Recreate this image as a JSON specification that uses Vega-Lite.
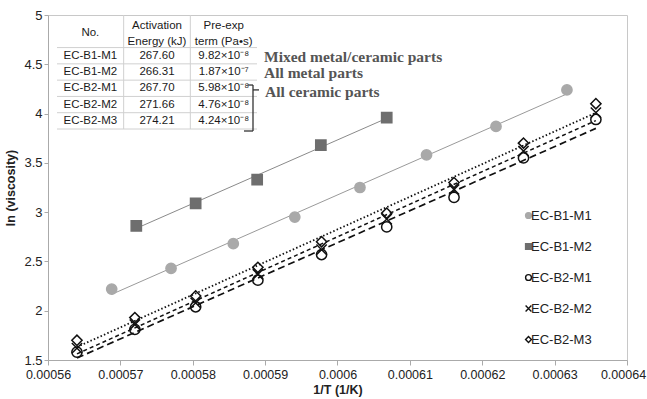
{
  "$schema": "https://vega.github.io/schema/vega-lite/v6.json",
  "width": 579,
  "height": 345,
  "autosize": "none",
  "padding": {"left": 48, "top": 15, "right": 20, "bottom": 39},
  "background": "white",
  "config": {
    "view": {"stroke": "#c8c8c8", "strokeWidth": 1},
    "font": "Liberation Sans",
    "axis": {"grid": false, "labelFont": "Liberation Sans", "titleFont": "Liberation Sans"}
  },
  "datasets": {
    "pts": [
      {"series": "EC-B1-M1", "invT": 0.0005688, "lnv": 2.22},
      {"series": "EC-B1-M1", "invT": 0.000577, "lnv": 2.43},
      {"series": "EC-B1-M1", "invT": 0.0005856, "lnv": 2.68},
      {"series": "EC-B1-M1", "invT": 0.0005941, "lnv": 2.95},
      {"series": "EC-B1-M1", "invT": 0.0006031, "lnv": 3.25},
      {"series": "EC-B1-M1", "invT": 0.0006123, "lnv": 3.58},
      {"series": "EC-B1-M1", "invT": 0.0006219, "lnv": 3.87},
      {"series": "EC-B1-M1", "invT": 0.0006317, "lnv": 4.24},
      {"series": "EC-B1-M2", "invT": 0.0005722, "lnv": 2.86},
      {"series": "EC-B1-M2", "invT": 0.0005804, "lnv": 3.09},
      {"series": "EC-B1-M2", "invT": 0.0005889, "lnv": 3.33},
      {"series": "EC-B1-M2", "invT": 0.0005977, "lnv": 3.68},
      {"series": "EC-B1-M2", "invT": 0.0006068, "lnv": 3.96},
      {"series": "EC-B2-M1", "invT": 0.000564, "lnv": 1.58},
      {"series": "EC-B2-M1", "invT": 0.000572, "lnv": 1.81},
      {"series": "EC-B2-M1", "invT": 0.0005804, "lnv": 2.04},
      {"series": "EC-B2-M1", "invT": 0.000589, "lnv": 2.31},
      {"series": "EC-B2-M1", "invT": 0.0005978, "lnv": 2.57},
      {"series": "EC-B2-M1", "invT": 0.0006068, "lnv": 2.85},
      {"series": "EC-B2-M1", "invT": 0.0006161, "lnv": 3.15},
      {"series": "EC-B2-M1", "invT": 0.0006257, "lnv": 3.55},
      {"series": "EC-B2-M1", "invT": 0.0006357, "lnv": 3.94},
      {"series": "EC-B2-M2", "invT": 0.000564, "lnv": 1.62},
      {"series": "EC-B2-M2", "invT": 0.000572, "lnv": 1.86},
      {"series": "EC-B2-M2", "invT": 0.0005804, "lnv": 2.08},
      {"series": "EC-B2-M2", "invT": 0.000589, "lnv": 2.37},
      {"series": "EC-B2-M2", "invT": 0.0005978, "lnv": 2.62},
      {"series": "EC-B2-M2", "invT": 0.0006068, "lnv": 2.93},
      {"series": "EC-B2-M2", "invT": 0.0006161, "lnv": 3.23},
      {"series": "EC-B2-M2", "invT": 0.0006257, "lnv": 3.62},
      {"series": "EC-B2-M2", "invT": 0.0006357, "lnv": 4.01},
      {"series": "EC-B2-M3", "invT": 0.000564, "lnv": 1.70},
      {"series": "EC-B2-M3", "invT": 0.000572, "lnv": 1.93},
      {"series": "EC-B2-M3", "invT": 0.0005804, "lnv": 2.15},
      {"series": "EC-B2-M3", "invT": 0.000589, "lnv": 2.44},
      {"series": "EC-B2-M3", "invT": 0.0005978, "lnv": 2.70},
      {"series": "EC-B2-M3", "invT": 0.0006068, "lnv": 2.99},
      {"series": "EC-B2-M3", "invT": 0.0006161, "lnv": 3.30},
      {"series": "EC-B2-M3", "invT": 0.0006257, "lnv": 3.70},
      {"series": "EC-B2-M3", "invT": 0.0006357, "lnv": 4.10}
    ],
    "cells": [
      {"col": "No.", "row": "EC-B1-M1", "txt": "EC-B1-M1"},
      {"col": "Activation", "row": "EC-B1-M1", "txt": "267.60"},
      {"col": "Pre-exp", "row": "EC-B1-M1", "txt": "9.82×10⁻⁸"},
      {"col": "No.", "row": "EC-B1-M2", "txt": "EC-B1-M2"},
      {"col": "Activation", "row": "EC-B1-M2", "txt": "266.31"},
      {"col": "Pre-exp", "row": "EC-B1-M2", "txt": "1.87×10⁻⁷"},
      {"col": "No.", "row": "EC-B2-M1", "txt": "EC-B2-M1"},
      {"col": "Activation", "row": "EC-B2-M1", "txt": "267.70"},
      {"col": "Pre-exp", "row": "EC-B2-M1", "txt": "5.98×10⁻⁸"},
      {"col": "No.", "row": "EC-B2-M2", "txt": "EC-B2-M2"},
      {"col": "Activation", "row": "EC-B2-M2", "txt": "271.66"},
      {"col": "Pre-exp", "row": "EC-B2-M2", "txt": "4.76×10⁻⁸"},
      {"col": "No.", "row": "EC-B2-M3", "txt": "EC-B2-M3"},
      {"col": "Activation", "row": "EC-B2-M3", "txt": "274.21"},
      {"col": "Pre-exp", "row": "EC-B2-M3", "txt": "4.24×10⁻⁸"}
    ],
    "heads": [
      {"col": "Activation", "row": "hA", "txt": "Activation"},
      {"col": "Activation", "row": "hB", "txt": "Energy (kJ)"},
      {"col": "Pre-exp", "row": "hA", "txt": "Pre-exp"},
      {"col": "Pre-exp", "row": "hB", "txt": "term (Pa•s)"}
    ],
    "headNo": [{"col": "No.", "txt": "No."}],
    "notes": [
      {"row": "EC-B1-M1", "txt": "Mixed metal/ceramic parts"},
      {"row": "EC-B1-M2", "txt": "All metal parts"}
    ],
    "noteCeramic": [{"row": "EC-B2-M1", "txt": "All ceramic parts"}],
    "hlines": [
      {"row": "EC-B1-M1"}, {"row": "EC-B1-M2"}, {"row": "EC-B2-M1"}, {"row": "EC-B2-M2"}, {"row": "EC-B2-M3"}
    ],
    "vlines": [{"col": "Activation"}, {"col": "Pre-exp"}],
    "one": [{"k": 1}]
  },
  "layer": [
    {
      "data": {"name": "pts"},
      "encoding": {
        "x": {
          "field": "invT", "type": "quantitative",
          "scale": {"domain": [0.00056, 0.00064], "nice": false, "zero": false},
          "axis": {
            "values": [0.00056, 0.00057, 0.00058, 0.00059, 0.0006, 0.00061, 0.00062, 0.00063, 0.00064],
            "format": "~g", "labelFontSize": 12.5, "labelColor": "#222", "labelFlush": false,
            "labelOffset": {"condition": {"test": "datum.value > 0.000635", "value": -4}, "value": 0},
            "tickColor": "#aaa", "domainColor": "#aaa", "tickSize": 5, "labelPadding": 3,
            "title": "1/T (1/K)", "titleFontSize": 12.5, "titleFontWeight": "bold", "titleColor": "#222", "titlePadding": 3
          }
        },
        "y": {
          "field": "lnv", "type": "quantitative",
          "scale": {"domain": [1.5, 5], "nice": false, "zero": false},
          "axis": {
            "values": [1.5, 2, 2.5, 3, 3.5, 4, 4.5, 5],
            "format": "~g", "labelFontSize": 13, "labelColor": "#222",
            "tickColor": "#aaa", "domainColor": "#aaa", "tickSize": 4, "labelPadding": 2,
            "title": "ln (viscosity)", "titleFontSize": 12.5, "titleFontWeight": "bold", "titleColor": "#222", "titlePadding": 6
          }
        }
      },
      "layer": [
        {
          "transform": [{"filter": "datum.series == 'EC-B1-M1'"}, {"regression": "lnv", "on": "invT"}],
          "mark": {"type": "line", "stroke": "#9a9a9a", "strokeWidth": 1}
        },
        {
          "transform": [{"filter": "datum.series == 'EC-B1-M2'"}, {"regression": "lnv", "on": "invT"}],
          "mark": {"type": "line", "stroke": "#8a8a8a", "strokeWidth": 1}
        },
        {
          "transform": [{"filter": "datum.series == 'EC-B2-M1'"}, {"regression": "lnv", "on": "invT"}],
          "mark": {"type": "line", "stroke": "#111", "strokeWidth": 1.7, "strokeDash": [7, 4]}
        },
        {
          "transform": [{"filter": "datum.series == 'EC-B2-M2'"}, {"regression": "lnv", "on": "invT"}],
          "mark": {"type": "line", "stroke": "#111", "strokeWidth": 1.5, "strokeDash": [4, 3]}
        },
        {
          "transform": [{"filter": "datum.series == 'EC-B2-M3'"}, {"regression": "lnv", "on": "invT"}],
          "mark": {"type": "line", "stroke": "#111", "strokeWidth": 1.8, "strokeDash": [1.5, 2.2]}
        },
        {
          "mark": {"type": "point", "size": 105, "strokeWidth": 1.5, "opacity": 1},
          "encoding": {
            "shape": {
              "field": "series", "type": "nominal",
              "scale": {"domain": ["EC-B1-M1", "EC-B1-M2", "EC-B2-M1", "EC-B2-M2", "EC-B2-M3"],
                        "range": ["circle", "square", "circle", "M-1,-1L1,1M1,-1L-1,1", "diamond"]},
              "legend": {"title": null, "orient": "none", "legendX": 474, "legendY": 194, "labelFontSize": 13, "labelFont": "Liberation Sans", "labelColor": "#222", "symbolSize": 34, "symbolStrokeWidth": 1.4, "rowPadding": 17, "labelOffset": -4, "padding": 0}
            },
            "fill": {
              "field": "series", "type": "nominal",
              "scale": {"domain": ["EC-B1-M1", "EC-B1-M2", "EC-B2-M1", "EC-B2-M2", "EC-B2-M3"],
                        "range": ["#a9a9a9", "#6e6e6e", "transparent", "transparent", "transparent"]},
              "legend": {"title": null, "orient": "none", "legendX": 474, "legendY": 194, "labelFontSize": 13, "labelFont": "Liberation Sans", "labelColor": "#222", "symbolSize": 34, "symbolStrokeWidth": 1.4, "rowPadding": 17, "labelOffset": -4, "padding": 0}
            },
            "stroke": {
              "field": "series", "type": "nominal",
              "scale": {"domain": ["EC-B1-M1", "EC-B1-M2", "EC-B2-M1", "EC-B2-M2", "EC-B2-M3"],
                        "range": ["#a9a9a9", "#6e6e6e", "#111111", "#111111", "#111111"]},
              "legend": {"title": null, "orient": "none", "legendX": 474, "legendY": 194, "labelFontSize": 13, "labelFont": "Liberation Sans", "labelColor": "#222", "symbolSize": 34, "symbolStrokeWidth": 1.4, "rowPadding": 17, "labelOffset": -4, "padding": 0}
            }
          }
        }
      ]
    },
    {
      "encoding": {
        "x": {"type": "nominal", "scale": {"type": "band", "domain": ["No.", "Activation", "Pre-exp"], "range": [9, 209], "paddingInner": 0, "paddingOuter": 0}, "axis": null},
        "y": {"type": "nominal", "scale": {"type": "band", "domain": ["hA", "hB", "EC-B1-M1", "EC-B1-M2", "EC-B2-M1", "EC-B2-M2", "EC-B2-M3"], "range": [0, 114], "paddingInner": 0, "paddingOuter": 0}, "axis": null}
      },
      "layer": [
        {
          "data": {"name": "hlines"},
          "mark": {"type": "rule", "stroke": "#d0d0d0", "strokeWidth": 1},
          "encoding": {
            "y": {"field": "row", "type": "nominal", "bandPosition": 0},
            "x": {"datum": "No.", "type": "nominal", "bandPosition": 0},
            "x2": {"datum": "Pre-exp", "bandPosition": 1}
          }
        },
        {
          "data": {"name": "one"},
          "mark": {"type": "rule", "stroke": "#d0d0d0", "strokeWidth": 1},
          "encoding": {
            "y": {"datum": "EC-B2-M3", "type": "nominal", "bandPosition": 1},
            "x": {"datum": "No.", "type": "nominal", "bandPosition": 0},
            "x2": {"datum": "Pre-exp", "bandPosition": 1}
          }
        },
        {
          "data": {"name": "vlines"},
          "mark": {"type": "rule", "stroke": "#d0d0d0", "strokeWidth": 1},
          "encoding": {
            "x": {"field": "col", "type": "nominal", "bandPosition": 0},
            "y": {"datum": "hA", "type": "nominal", "bandPosition": 0},
            "y2": {"datum": "EC-B2-M3", "bandPosition": 1}
          }
        },
        {
          "data": {"name": "cells"},
          "mark": {"type": "text", "fontSize": 11.5, "font": "Liberation Sans", "color": "#1a1a1a", "baseline": "middle", "align": "center"},
          "encoding": {
            "x": {"field": "col", "type": "nominal"},
            "y": {"field": "row", "type": "nominal"},
            "text": {"field": "txt"}
          }
        },
        {
          "data": {"name": "heads"},
          "mark": {"type": "text", "fontSize": 11.5, "font": "Liberation Sans", "color": "#1a1a1a", "baseline": "middle", "align": "center", "dy": 2.5},
          "encoding": {
            "x": {"field": "col", "type": "nominal"},
            "y": {"field": "row", "type": "nominal"},
            "text": {"field": "txt"}
          }
        },
        {
          "data": {"name": "headNo"},
          "mark": {"type": "text", "fontSize": 11.5, "font": "Liberation Sans", "color": "#1a1a1a", "baseline": "middle", "align": "center", "dy": 2},
          "encoding": {
            "x": {"field": "col", "type": "nominal"},
            "y": {"datum": "hB", "type": "nominal", "bandPosition": 0},
            "text": {"field": "txt"}
          }
        },
        {
          "data": {"name": "notes"},
          "mark": {"type": "text", "fontSize": 15.5, "font": "Liberation Serif", "fontWeight": "bold", "color": "#555555", "baseline": "middle", "align": "left", "dx": 7, "dy": 1},
          "encoding": {
            "x": {"datum": "Pre-exp", "type": "nominal", "bandPosition": 1},
            "y": {"field": "row", "type": "nominal"},
            "text": {"field": "txt"}
          }
        },
        {
          "data": {"name": "noteCeramic"},
          "mark": {"type": "text", "fontSize": 15.5, "font": "Liberation Serif", "fontWeight": "bold", "color": "#555555", "baseline": "middle", "align": "left", "dx": 8, "dy": 4},
          "encoding": {
            "x": {"datum": "Pre-exp", "type": "nominal", "bandPosition": 1},
            "y": {"field": "row", "type": "nominal"},
            "text": {"field": "txt"}
          }
        },
        {
          "data": {"name": "one"},
          "mark": {"type": "rule", "stroke": "#333", "strokeWidth": 1.3, "xOffset": -4, "yOffset": 0, "y2Offset": 2},
          "encoding": {
            "x": {"datum": "Pre-exp", "type": "nominal", "bandPosition": 1},
            "y": {"datum": "EC-B2-M1", "type": "nominal", "bandPosition": 0.3},
            "y2": {"datum": "EC-B2-M3", "bandPosition": 1}
          }
        },
        {
          "data": {"name": "one"},
          "mark": {"type": "rule", "stroke": "#333", "strokeWidth": 1.3, "xOffset": -9, "x2Offset": -4},
          "encoding": {
            "x": {"datum": "Pre-exp", "type": "nominal", "bandPosition": 1},
            "x2": {"datum": "Pre-exp", "bandPosition": 1},
            "y": {"datum": "EC-B2-M1", "type": "nominal", "bandPosition": 0.3}
          }
        },
        {
          "data": {"name": "one"},
          "mark": {"type": "rule", "stroke": "#333", "strokeWidth": 1.3, "xOffset": -13, "x2Offset": -4, "yOffset": 2},
          "encoding": {
            "x": {"datum": "Pre-exp", "type": "nominal", "bandPosition": 1},
            "x2": {"datum": "Pre-exp", "bandPosition": 1},
            "y": {"datum": "EC-B2-M3", "type": "nominal", "bandPosition": 1}
          }
        },
        {
          "data": {"name": "one"},
          "mark": {"type": "rule", "stroke": "#333", "strokeWidth": 1.3, "xOffset": -4, "x2Offset": 2},
          "encoding": {
            "x": {"datum": "Pre-exp", "type": "nominal", "bandPosition": 1},
            "x2": {"datum": "Pre-exp", "bandPosition": 1},
            "y": {"datum": "EC-B2-M1", "type": "nominal", "bandPosition": 0.6}
          }
        }
      ]
    }
  ],
  "resolve": {"scale": {"x": "independent", "y": "independent"}}
}
